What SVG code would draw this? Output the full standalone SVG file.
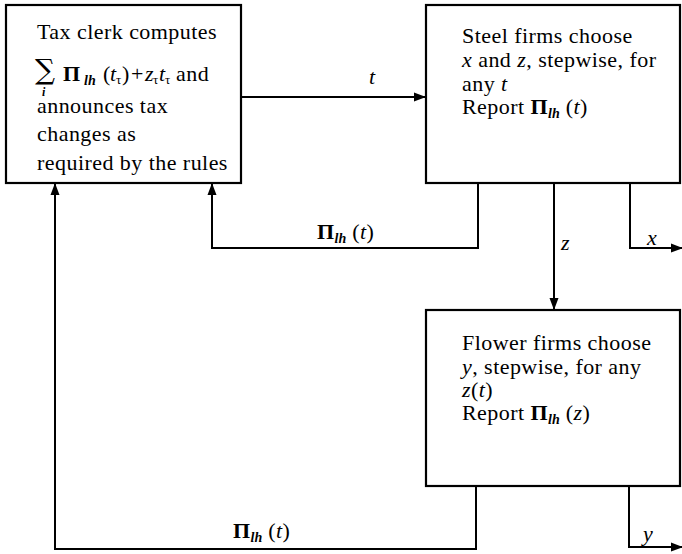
<svg xmlns="http://www.w3.org/2000/svg" width="682" height="554" viewBox="0 0 682 554">
<defs>
<marker id="ah" markerWidth="12" markerHeight="10" refX="11" refY="5" orient="auto" markerUnits="userSpaceOnUse">
<path d="M0,0.5 L12,5 L0,9.5 Z" fill="#000"/>
</marker>
<style>
.box{fill:#fff;stroke:#000;stroke-width:2.2}
.ln{fill:none;stroke:#000;stroke-width:2}
text{font-family:"Liberation Serif","Times New Roman",serif;font-size:22px;fill:#000;letter-spacing:0.45px}
.it{font-style:italic}
.b{font-weight:bold}
.sub{font-size:14px;font-style:italic;font-weight:bold;letter-spacing:0}
.tau{font-size:13px;letter-spacing:0}
.sig{font-family:"DejaVu Serif","DejaVu Sans",serif;font-size:28px;letter-spacing:0}
</style>
</defs>
<rect width="682" height="554" fill="#fff"/>
<g id="connectors">
<path class="ln" d="M241,97 H425" marker-end="url(#ah)"/>
<path class="ln" d="M478,183 V248 H212 V184" marker-end="url(#ah)"/>
<path class="ln" d="M554,183 V309" marker-end="url(#ah)"/>
<path class="ln" d="M630,183 V248 H682" marker-end="url(#ah)"/>
<path class="ln" d="M476,486 V549 H55 V184" marker-end="url(#ah)"/>
<path class="ln" d="M629,486 V547 H682" marker-end="url(#ah)"/>
<text x="369" y="84" class="it">t</text>
<text x="317" y="239"><tspan class="b">Π</tspan><tspan class="sub" dy="4">lh</tspan><tspan dy="-4"> (</tspan><tspan class="it">t</tspan>)</text>
<text x="561" y="250" class="it">z</text>
<text x="647" y="245" class="it">x</text>
<text x="643" y="541" class="it">y</text>
<text x="233" y="538"><tspan class="b">Π</tspan><tspan class="sub" dy="4">lh</tspan><tspan dy="-4"> (</tspan><tspan class="it">t</tspan>)</text>
</g>
<g id="tax-clerk">
<rect class="box" x="6" y="5" width="235" height="178"/>
<text x="37" y="39">Tax clerk computes</text>
<text x="35" y="79" class="sig">∑</text>
<text x="42" y="96" class="sub" style="font-size:12px">i</text>
<text y="81"><tspan x="63" class="b">Π</tspan><tspan x="84" class="sub" dy="4">lh</tspan><tspan x="103" dy="-4">(</tspan><tspan x="110" class="it">t</tspan><tspan x="116" class="tau" dy="3">τ</tspan><tspan x="122" dy="-3">)</tspan><tspan x="131">+</tspan><tspan x="145" class="it">z</tspan><tspan x="153" class="tau" dy="3">τ</tspan><tspan x="159" class="it" dy="-3">t</tspan><tspan x="165" class="tau" dy="3">τ</tspan><tspan x="176" dy="-3">and</tspan></text>
<text x="37" y="113">announces tax</text>
<text x="37" y="141">changes as</text>
<text x="37" y="170">required by the rules</text>
</g>
<g id="steel">
<rect class="box" x="426" y="5" width="254" height="178"/>
<text x="462" y="43">Steel firms choose</text>
<text x="462" y="67"><tspan class="it">x</tspan> and <tspan class="it">z</tspan>, stepwise, for</text>
<text x="462" y="91">any <tspan class="it">t</tspan></text>
<text x="462" y="114">Report <tspan class="b">Π</tspan><tspan class="sub" dy="4">lh</tspan><tspan dy="-4"> (</tspan><tspan class="it">t</tspan>)</text>
</g>
<g id="flower">
<rect class="box" x="426" y="310" width="254" height="176"/>
<text x="462" y="350">Flower firms choose</text>
<text x="462" y="374"><tspan class="it">y</tspan>, stepwise, for any</text>
<text x="462" y="397"><tspan class="it">z</tspan>(<tspan class="it">t</tspan>)</text>
<text x="462" y="420">Report <tspan class="b">Π</tspan><tspan class="sub" dy="4">lh</tspan><tspan dy="-4"> (</tspan><tspan class="it">z</tspan>)</text>
</g>
</svg>
